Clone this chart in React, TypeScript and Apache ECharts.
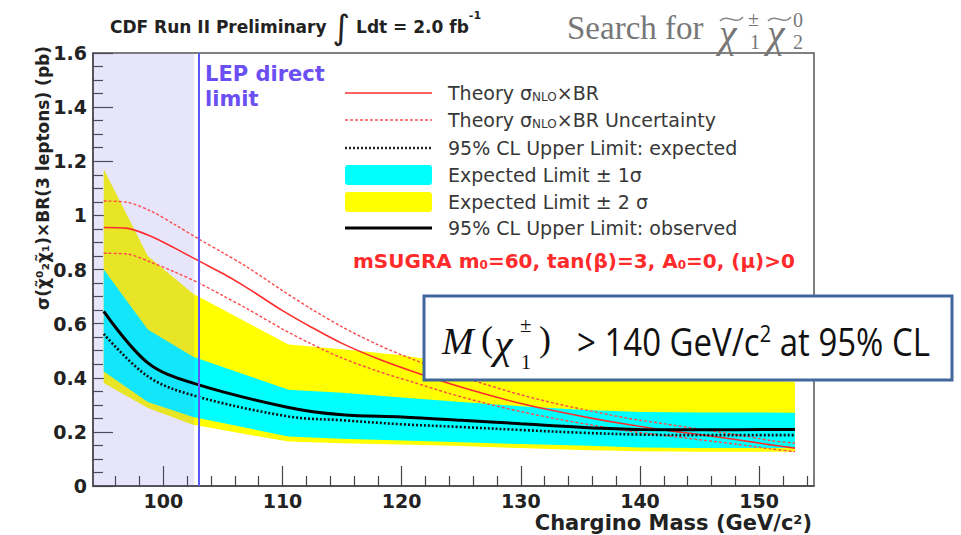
import React, { useEffect, useRef } from "react";
import * as echarts from "echarts";

// Limit scan points (chargino mass, GeV/c^2) and cross-section limits (pb)
const limitMass = [95, 98.7, 102.5, 110.5, 115, 120, 125, 130, 135, 140, 145, 153];
const observedLimit = [0.645, 0.455, 0.38, 0.29, 0.263, 0.255, 0.243, 0.23, 0.217, 0.209, 0.208, 0.209];
const expectedLimit = [0.562, 0.405, 0.335, 0.257, 0.243, 0.228, 0.218, 0.207, 0.197, 0.19, 0.188, 0.188];
const oneSigmaLow = [0.423, 0.31, 0.255, 0.183, 0.175, 0.168, 0.162, 0.155, 0.15, 0.142, 0.14, 0.14];
const oneSigmaHigh = [0.8, 0.578, 0.478, 0.356, 0.345, 0.327, 0.31, 0.295, 0.282, 0.273, 0.272, 0.271];
const twoSigmaLow = [0.381, 0.288, 0.226, 0.164, 0.158, 0.153, 0.148, 0.14, 0.133, 0.128, 0.127, 0.127];
const twoSigmaHigh = [1.17, 0.85, 0.71, 0.523, 0.505, 0.483, 0.45, 0.425, 0.41, 0.398, 0.39, 0.385];

// NLO theory prediction and its uncertainty band
const theoryMass = [95, 97, 99, 101, 103, 105, 107, 110, 112.5, 115, 118, 121, 124, 127, 130, 133, 136, 139, 142, 145, 148, 151, 153];
const theoryXsec = [0.955, 0.952, 0.922, 0.878, 0.831, 0.785, 0.733, 0.648, 0.585, 0.527, 0.47, 0.422, 0.379, 0.34, 0.305, 0.276, 0.25, 0.227, 0.207, 0.19, 0.172, 0.152, 0.14];
const theoryUp = [1.053, 1.048, 1.015, 0.965, 0.912, 0.862, 0.81, 0.722, 0.652, 0.588, 0.522, 0.467, 0.419, 0.376, 0.337, 0.304, 0.276, 0.25, 0.23, 0.21, 0.19, 0.168, 0.158];
const theoryDown = [0.86, 0.857, 0.826, 0.79, 0.75, 0.703, 0.656, 0.58, 0.523, 0.473, 0.424, 0.383, 0.342, 0.306, 0.275, 0.248, 0.225, 0.203, 0.187, 0.171, 0.155, 0.137, 0.127];

// Axes
const X_MIN = 94.1;
const X_MAX = 154.6;
const xTickValues = [100, 110, 120, 130, 140, 150];
const xMinorTickValues = [96, 98, 102, 104, 106, 108, 112, 114, 116, 118, 122, 124, 126, 128, 132, 134, 136, 138, 142, 144, 146, 148, 152, 154];
const Y_MIN = 0;
const Y_MAX = 1.6;
const Y_STEP = 0.2;

// LEP direct search exclusion
const LEP_LIMIT = 103;
const LEP_SHADE_END = 102.6;

const pairs = (xs: number[], ys: number[]) => xs.map((x, i) => [x, ys[i]]);

const SANS = "DejaVu Sans";
const SERIF = "Liberation Serif";

const legendRows = [
  { y: 93, text: "Theory σ{sub|NLO}×BR" },
  { y: 120, text: "Theory σ{sub|NLO}×BR Uncertainty" },
  { y: 148, text: "95% CL Upper Limit: expected" },
  { y: 175, text: "Expected Limit ± 1σ" },
  { y: 202, text: "Expected Limit ± 2 σ" },
  { y: 228, text: "95% CL Upper Limit: observed" },
];

// Filled band between a lower and an upper edge, drawn as one polygon
function bandSeries(name: string, lo: number[], hi: number[], color: string, z: number): any {
  return {
    name,
    type: "custom",
    z,
    clip: true,
    silent: true,
    data: limitMass.map((m, i) => [m, lo[i], hi[i]]),
    encode: { x: 0, y: [1, 2] },
    renderItem: (params: any, api: any) => {
      if (params.dataIndex !== 0) return null;
      const upper = limitMass.map((m, i) => api.coord([m, hi[i]]));
      const lower = limitMass.map((m, i) => api.coord([m, lo[i]])).reverse();
      return {
        type: "polygon",
        shape: { points: [...upper, ...lower] },
        style: { fill: color, stroke: null },
      };
    },
  };
}

function tilde(x: number, y: number, color: string): any {
  return {
    type: "bezierCurve",
    shape: { x1: x, y1: y + 2, cpx1: x + 7, cpy1: y - 6, cpx2: x + 16, cpy2: y + 7, x2: x + 23, y2: y - 2 },
    style: { stroke: color, lineWidth: 1.6, fill: null },
  };
}

function buildOption(): echarts.EChartsOption {
  const legendGraphics: any[] = [
    { type: "line", shape: { x1: 345, y1: 93, x2: 432, y2: 93 }, style: { stroke: "#ff3030", lineWidth: 1.6 } },
    { type: "line", shape: { x1: 345, y1: 120, x2: 432, y2: 120 }, style: { stroke: "#ff5050", lineWidth: 1.4, lineDash: [3, 2] } },
    { type: "line", shape: { x1: 345, y1: 148, x2: 432, y2: 148 }, style: { stroke: "#222", lineWidth: 2.5, lineDash: [2, 2] } },
    { type: "rect", shape: { x: 345, y: 165, width: 87, height: 20, r: 3 }, style: { fill: "#00ffff" } },
    { type: "rect", shape: { x: 345, y: 192, width: 87, height: 20, r: 3 }, style: { fill: "#ffff00" } },
    { type: "line", shape: { x1: 345, y1: 228, x2: 432, y2: 228 }, style: { stroke: "#000", lineWidth: 3 } },
    ...legendRows.map((r) => ({
      type: "text",
      x: 448,
      y: r.y,
      style: {
        text: r.text,
        fontFamily: SANS,
        fontSize: 19,
        fill: "#383838",
        verticalAlign: "middle",
        rich: { sub: { fontSize: 12, fontFamily: SANS, fill: "#383838", verticalAlign: "bottom", padding: [7, 0, 0, 0] } },
      },
    })),
  ];

  const titleGraphics: any[] = [
    {
      type: "text",
      x: 110,
      y: 27,
      style: {
        text: "CDF Run II Preliminary {int|∫} Ldt = 2.0 fb{sup|-1}",
        fontFamily: SANS,
        fontWeight: "bold",
        fontSize: 17,
        fill: "#222",
        verticalAlign: "middle",
        rich: {
          int: { fontFamily: SANS, fontSize: 34, fill: "#222" },
          sup: { fontFamily: SANS, fontWeight: "bold", fontSize: 11, fill: "#222", verticalAlign: "top", padding: [0, 0, 10, 0] },
        },
      },
    },
    { type: "text", x: 567, y: 28, style: { text: "Search for", fontFamily: SERIF, fontSize: 33, fill: "#777", verticalAlign: "middle" } },
    { type: "text", x: 719, y: 33, style: { text: "χ", fontFamily: SERIF, fontStyle: "italic", fontSize: 40, fill: "#777", verticalAlign: "middle" } },
    tilde(720, 19, "#888"),
    { type: "text", x: 748, y: 19, style: { text: "±", fontFamily: SERIF, fontSize: 20, fill: "#777", verticalAlign: "middle" } },
    { type: "text", x: 750, y: 42, style: { text: "1", fontFamily: SERIF, fontSize: 20, fill: "#777", verticalAlign: "middle" } },
    { type: "text", x: 767, y: 33, style: { text: "χ", fontFamily: SERIF, fontStyle: "italic", fontSize: 40, fill: "#777", verticalAlign: "middle" } },
    tilde(768, 19, "#888"),
    { type: "text", x: 793, y: 20, style: { text: "0", fontFamily: SERIF, fontSize: 20, fill: "#777", verticalAlign: "middle" } },
    { type: "text", x: 793, y: 42, style: { text: "2", fontFamily: SERIF, fontSize: 20, fill: "#777", verticalAlign: "middle" } },
  ];

  const axisTitleGraphics: any[] = [
    {
      type: "text",
      x: 43,
      y: 178,
      rotation: Math.PI / 2,
      style: {
        text: "σ(χ̃⁰₂χ̃₁)×BR(3 leptons) (pb)",
        fontFamily: SANS,
        fontWeight: "bold",
        fontSize: 17,
        fill: "#222",
        align: "center",
        verticalAlign: "middle",
      },
    },
    {
      type: "text",
      x: 812,
      y: 523,
      style: {
        text: "Chargino Mass (GeV/c{sup|2})",
        fontFamily: SANS,
        fontWeight: "bold",
        fontSize: 21,
        fill: "#222",
        align: "right",
        verticalAlign: "middle",
        rich: { sup: { fontFamily: SANS, fontWeight: "bold", fontSize: 13, fill: "#222", verticalAlign: "top", padding: [0, 0, 8, 0] } },
      },
    },
  ];

  const annotationGraphics: any[] = [
    { type: "text", x: 205, y: 74, style: { text: "LEP direct", fontFamily: SANS, fontWeight: "bold", fontSize: 21, fill: "#6a4ff2", verticalAlign: "middle" } },
    { type: "text", x: 205, y: 99, style: { text: "limit", fontFamily: SANS, fontWeight: "bold", fontSize: 21, fill: "#6a4ff2", verticalAlign: "middle" } },
    {
      type: "text",
      x: 353,
      y: 261,
      style: {
        text: "mSUGRA m{sub|0}=60, tan(β)=3, A{sub|0}=0, (μ)>0",
        fontFamily: SANS,
        fontWeight: "bold",
        fontSize: 20,
        fill: "#ff2b2b",
        verticalAlign: "middle",
        rich: { sub: { fontFamily: SANS, fontWeight: "bold", fontSize: 12, fill: "#ff2b2b", verticalAlign: "bottom", padding: [8, 0, 0, 0] } },
      },
    },
    // mass limit box
    { type: "rect", shape: { x: 424, y: 296, width: 528, height: 84 }, style: { fill: "#fff", stroke: "#41689c", lineWidth: 3 } },
    { type: "text", x: 442, y: 341, style: { text: "M", fontFamily: SERIF, fontStyle: "italic", fontSize: 38, fill: "#111", verticalAlign: "middle" } },
    { type: "text", x: 481, y: 339, style: { text: "(", fontFamily: SERIF, fontSize: 36, fill: "#111", verticalAlign: "middle" } },
    { type: "text", x: 494, y: 344, style: { text: "χ", fontFamily: SERIF, fontStyle: "italic", fontSize: 42, fill: "#111", verticalAlign: "middle" } },
    { type: "text", x: 520, y: 325, style: { text: "±", fontFamily: SERIF, fontSize: 21, fill: "#111", verticalAlign: "middle" } },
    { type: "text", x: 521, y: 362, style: { text: "1", fontFamily: SERIF, fontSize: 20, fill: "#111", verticalAlign: "middle" } },
    { type: "text", x: 539, y: 339, style: { text: ")", fontFamily: SERIF, fontSize: 36, fill: "#111", verticalAlign: "middle" } },
    {
      type: "text",
      x: 577,
      y: 341,
      scaleY: 1.18,
      style: {
        text: "> 140 GeV/c{sup|2} at 95% CL",
        fontFamily: "Open Sans",
        fontSize: 33,
        fill: "#111",
        verticalAlign: "middle",
        rich: { sup: { fontFamily: "Open Sans", fontSize: 20, fill: "#111", verticalAlign: "top", padding: [0, 0, 14, 0] } },
      },
    },
  ];

  const graphics = [...legendGraphics, ...titleGraphics, ...axisTitleGraphics, ...annotationGraphics].map((g) => ({ z: 100, ...g }));

  return {
    animation: false,
    backgroundColor: "#fff",
    textStyle: { fontFamily: SANS },
    grid: { left: 93, right: 147, top: 53, bottom: 49, show: true, borderColor: "#555", borderWidth: 1.5, backgroundColor: "transparent" },
    xAxis: [
      {
        type: "value",
        min: X_MIN,
        max: X_MAX,
        position: "bottom",
        axisLine: { show: true, lineStyle: { color: "#444", width: 1.5 } },
        axisTick: { show: true, inside: true, length: 20, customValues: xTickValues, lineStyle: { color: "#444", width: 1.2 } },
        axisLabel: { customValues: xTickValues, fontFamily: SANS, fontWeight: "bold", fontSize: 19, color: "#222", margin: 5 },
        splitLine: { show: false },
      } as any,
      {
        type: "value",
        min: X_MIN,
        max: X_MAX,
        position: "bottom",
        offset: 0,
        axisLine: { show: false },
        axisTick: { show: true, inside: true, length: 10, customValues: xMinorTickValues, lineStyle: { color: "#444", width: 1.2 } },
        axisLabel: { show: false },
        splitLine: { show: false },
      } as any,
    ],
    yAxis: {
      type: "value",
      min: Y_MIN,
      max: Y_MAX,
      interval: Y_STEP,
      axisLine: { show: true, lineStyle: { color: "#444", width: 1.5 } },
      axisTick: { show: true, inside: true, length: 20, lineStyle: { color: "#444", width: 1.2 } },
      minorTick: { show: true, splitNumber: 4, length: 10, lineStyle: { color: "#444", width: 1.2 } },
      axisLabel: { fontFamily: SANS, fontWeight: "bold", fontSize: 19, color: "#222", margin: 6 },
      splitLine: { show: false },
    },
    graphic: graphics,
    series: [
      bandSeries("Expected Limit ± 2σ", twoSigmaLow, twoSigmaHigh, "#ffff00", 1),
      bandSeries("Expected Limit ± 1σ", oneSigmaLow, oneSigmaHigh, "#00ffff", 2),
      {
        name: "LEP",
        type: "line",
        data: [],
        z: 3,
        markArea: {
          silent: true,
          z: 3,
          itemStyle: { color: "rgba(110,100,225,0.17)" },
          data: [[{ xAxis: X_MIN }, { xAxis: LEP_SHADE_END }]],
        },
        markLine: {
          silent: true,
          z: 6,
          symbol: ["none", "none"],
          label: { show: false },
          lineStyle: { color: "#5a5aff", width: 2, type: "solid" },
          data: [{ xAxis: LEP_LIMIT }],
        },
      },
      {
        name: "Theory σNLO×BR Uncertainty (up)",
        type: "line",
        z: 4,
        data: pairs(theoryMass, theoryUp),
        symbol: "none",
        smooth: 0.3,
        lineStyle: { color: "#ff4a4a", width: 1.4, type: [3, 2] },
      },
      {
        name: "Theory σNLO×BR Uncertainty (down)",
        type: "line",
        z: 4,
        data: pairs(theoryMass, theoryDown),
        symbol: "none",
        smooth: 0.3,
        lineStyle: { color: "#ff4a4a", width: 1.4, type: [3, 2] },
      },
      {
        name: "Theory σNLO×BR",
        type: "line",
        z: 4,
        data: pairs(theoryMass, theoryXsec),
        symbol: "none",
        smooth: 0.3,
        lineStyle: { color: "#ff2d2d", width: 1.6 },
      },
      {
        name: "95% CL Upper Limit: expected",
        type: "line",
        z: 5,
        data: pairs(limitMass, expectedLimit),
        symbol: "none",
        smooth: 0.35,
        lineStyle: { color: "#111", width: 2.6, type: [2, 2] },
      },
      {
        name: "95% CL Upper Limit: observed",
        type: "line",
        z: 5,
        data: pairs(limitMass, observedLimit),
        symbol: "none",
        smooth: 0.35,
        lineStyle: { color: "#000", width: 3 },
      },
    ],
  } as echarts.EChartsOption;
}

export default function App() {
  const ref = useRef<HTMLDivElement>(null);
  useEffect(() => {
    if (!ref.current) return;
    const chart = echarts.init(ref.current, null, { renderer: "svg" });
    chart.setOption(buildOption());
    return () => chart.dispose();
  }, []);
  return (
    <div
      ref={ref}
      style={{ position: "absolute", left: 0, top: 0, width: 961, height: 535, background: "#fff" }}
    />
  );
}
